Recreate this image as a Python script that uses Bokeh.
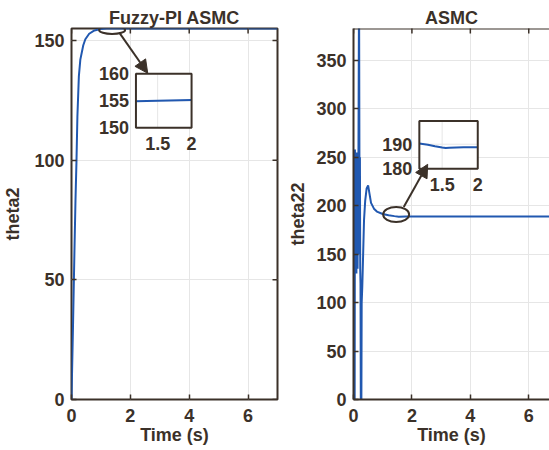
import math
from bokeh.plotting import figure
from bokeh.layouts import row
from bokeh.models import Range1d, FixedTicker, Arrow, NormalHead, Span
from bokeh.core.properties import value
from bokeh.embed import file_html
from bokeh.resources import INLINE

# ---------------- data ----------------
# Fuzzy-PI ASMC response
t_fuzzy = [0, 0.05, 0.10, 0.135, 0.17, 0.20, 0.25, 0.30, 0.40, 0.47, 0.60, 0.78, 1.0, 1.2, 2.0, 4.0, 7.0]
theta2_fuzzy = [0, 30, 62, 83, 100, 118, 135, 142, 148, 150.5, 152.8, 154.2, 154.8, 155.0, 155.0, 155.0, 155.0]
# zoomed view of the Fuzzy-PI ASMC response
t_fuzzy_zoom = [1.18, 1.5, 2.0]
theta2_fuzzy_zoom = [154.9, 155.0, 155.15]

# ASMC response
t_asmc = [0, 0.04, 0.05, 0.06, 0.07, 0.08, 0.09, 0.10, 0.11, 0.12, 0.13, 0.14, 0.15, 0.16, 0.17,
          0.19, 0.21, 0.22, 0.23, 0.24, 0.25, 0.27, 0.28, 0.30, 0.33, 0.36, 0.40, 0.45, 0.50, 0.55,
          0.60, 0.70, 0.80, 1.0, 1.2, 1.4, 1.55, 1.8, 2.0, 3.0, 5.0, 7.0]
theta22_asmc = [0, 0, 258, 140, 250, 135, 255, 130, 245, 140, 255, 135, 240, 150, 260,
                430, 150, 250, 135, 120, 0, 0, 100, 116, 150, 185, 205, 218, 221, 212,
                203, 197, 194, 191.5, 190.3, 189.3, 188.6, 188.8, 188.8, 188.8, 188.8, 188.8]
# zoomed view of the ASMC response
t_asmc_zoom = [1.18, 1.3, 1.4, 1.5, 1.55, 1.6, 1.7, 1.8, 1.9, 2.0]
theta22_asmc_zoom = [190.3, 189.8, 189.2, 188.7, 188.5, 188.6, 188.7, 188.8, 188.8, 188.8]

x_ticks = [0, 2, 4, 6]
y_ticks_fuzzy = [0, 50, 100, 150]
y_ticks_asmc = [0, 50, 100, 150, 200, 250, 300, 350]
inset_x_ticks = [1.5, 2]
inset_y_ticks_fuzzy = [150, 155, 160]
inset_y_ticks_asmc = [180, 190]

# ---------------- style ----------------
DARK = "#3b3129"
BLUE = "#2158b0"
GRID = "#e6e6e6"
FONT = "Liberation Sans"
TICK_FS = "18px"


def style(p, ylabel, label_standoff):
    p.title.align = "center"
    p.title.text_font = FONT
    p.title.text_font_size = "18px"
    p.title.text_font_style = "bold"
    p.title.text_color = DARK
    p.title.standoff = 2
    for ax in p.axis:
        ax.major_label_text_font = FONT
        ax.major_label_text_font_size = TICK_FS
        ax.major_label_text_font_style = "bold"
        ax.major_label_text_color = DARK
        ax.axis_label_text_font = FONT
        ax.axis_label_text_font_size = TICK_FS
        ax.axis_label_text_font_style = "bold"
        ax.axis_label_text_color = DARK
        ax.major_tick_in = 5
        ax.major_tick_out = 0
        ax.major_tick_line_color = DARK
        ax.major_tick_line_width = 1.5
        ax.minor_tick_line_color = None
        ax.axis_line_color = DARK
        ax.axis_line_width = 2
    p.xaxis.axis_label = "Time (s)"
    p.xaxis.major_label_standoff = 9
    p.xaxis.axis_label_standoff = 0
    p.yaxis.axis_label = ylabel
    p.yaxis.major_label_standoff = 7
    p.yaxis.axis_label_standoff = label_standoff
    p.grid.grid_line_color = GRID
    p.grid.grid_line_width = 1
    p.background_fill_color = "white"
    p.border_fill_color = "white"


def inset(p, x_src, y_src, x_tgt, y_tgt, t, y, xt, yt):
    sub = p.subplot(x_source=Range1d(*x_src), y_source=Range1d(*y_src),
                    x_target=Range1d(*x_tgt), y_target=Range1d(*y_tgt))
    sub.quad(left=[x_src[0]], right=[x_src[1]], bottom=[y_src[0]], top=[y_src[1]],
             fill_color="white", line_color=None)
    gx = [v for v in xt if x_src[0] < v < x_src[1]]
    gy = [v for v in yt if y_src[0] < v < y_src[1]]
    sub.segment(x0=gx, x1=gx, y0=[y_src[0]] * len(gx), y1=[y_src[1]] * len(gx),
                line_color=GRID, line_width=1)
    sub.segment(x0=[x_src[0]] * len(gy), x1=[x_src[1]] * len(gy), y0=gy, y1=gy,
                line_color=GRID, line_width=1)
    sub.line(t, y, line_color=BLUE, line_width=2)
    sub.quad(left=[x_src[0]], right=[x_src[1]], bottom=[y_src[0]], top=[y_src[1]],
             fill_color=None, line_color=DARK, line_width=2)
    sub.text(x=[x_src[0]] * len(yt), y=yt, text=[f"{v:g}" for v in yt],
             text_align="right", text_baseline="middle", x_offset=-7,
             text_font=value(FONT), text_font_style="bold", text_font_size=TICK_FS,
             text_color=DARK)
    sub.text(x=xt, y=[y_src[0]] * len(xt), text=[f"{v:g}" for v in xt],
             text_align="center", text_baseline="top", y_offset=9,
             text_font=value(FONT), text_font_style="bold", text_font_size=TICK_FS,
             text_color=DARK)


# ---------------- left panel ----------------
p1 = figure(width=285, height=450, min_border_left=70, min_border_right=8,
            min_border_top=28, min_border_bottom=51,
            x_range=Range1d(0, 7), y_range=Range1d(0, 155),
            title="Fuzzy-PI ASMC", output_backend="svg", toolbar_location=None)
p1.xaxis.ticker = FixedTicker(ticks=x_ticks)
p1.yaxis.ticker = FixedTicker(ticks=y_ticks_fuzzy)
style(p1, "theta2", 8)
for ax in p1.axis:
    ax.axis_line_color = None
p1.outline_line_color = DARK
p1.outline_line_width = 2
p1.outline_line_alpha = 1

p1.line(t_fuzzy, theta2_fuzzy, line_color=BLUE, line_width=2)
# ticks on top and right edges (inside)
p1.scatter(x=x_ticks, y=[155] * len(x_ticks), marker="dash", angle=math.pi / 2, size=10,
           line_color=DARK, line_width=1.5)
p1.scatter(x=[7] * len(y_ticks_fuzzy), y=y_ticks_fuzzy, marker="dash", size=10,
           line_color=DARK, line_width=1.5)

inset(p1, (1.18, 2.0), (150, 160), (2.19, 4.08), (113.5, 136.07),
      t_fuzzy_zoom, theta2_fuzzy_zoom, inset_x_ticks, inset_y_ticks_fuzzy)
p1.ellipse(x=[1.38], y=[154.4], width=26, height=8, width_units="screen",
           height_units="screen", fill_color=None, line_color=DARK, line_width=2)
p1.add_layout(Arrow(end=NormalHead(size=13, fill_color=DARK, line_color=DARK),
                    x_start=1.63, y_start=153.2, x_end=2.59, y_end=136.3,
                    line_color=DARK, line_width=2))

# ---------------- right panel ----------------
p2 = figure(width=264, height=450, min_border_left=66, min_border_right=0,
            min_border_top=28, min_border_bottom=51,
            x_range=Range1d(0, 6.71), y_range=Range1d(0, 383),
            title="ASMC", output_backend="svg", toolbar_location=None)
p2.xaxis.ticker = FixedTicker(ticks=x_ticks)
p2.yaxis.ticker = FixedTicker(ticks=y_ticks_asmc)
style(p2, "theta22", 5)
p2.title.offset = 4
p2.outline_line_color = None
p2.add_layout(Span(location=383, dimension="width", line_color=DARK, line_width=2))

p2.line(t_asmc, theta22_asmc, line_color=BLUE, line_width=2)
p2.scatter(x=x_ticks, y=[383] * len(x_ticks), marker="dash", angle=math.pi / 2, size=10,
           line_color=DARK, line_width=1.5)

inset(p2, (1.18, 2.0), (180, 199.5), (2.254, 4.254), (238.2, 287.6),
      t_asmc_zoom, theta22_asmc_zoom, inset_x_ticks, inset_y_ticks_asmc)
p2.ellipse(x=[1.46], y=[191], width=26, height=15, width_units="screen",
           height_units="screen", fill_color=None, line_color=DARK, line_width=2)
p2.add_layout(Arrow(end=NormalHead(size=13, fill_color=DARK, line_color=DARK),
                    x_start=1.72, y_start=198.7, x_end=2.54, y_end=242.8,
                    line_color=DARK, line_width=2))

layout = row(p1, p2)
open("out.html", "w").write(file_html(layout, INLINE))
